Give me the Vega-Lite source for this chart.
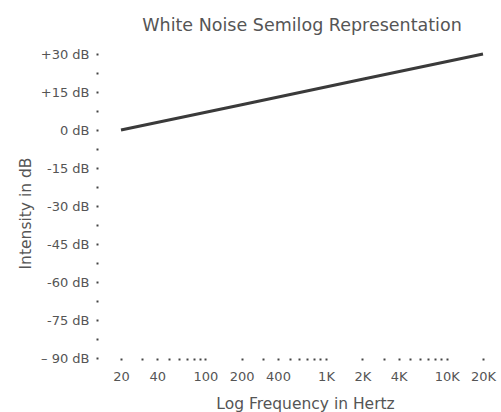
{
  "$schema": "https://vega.github.io/schema/vega-lite/v6.json",
  "width": 362,
  "height": 304,
  "autosize": {"type": "none"},
  "padding": {"left": 121, "top": 54, "right": 18, "bottom": 54},
  "background": "white",
  "title": {
    "text": "White Noise Semilog Representation",
    "font": "DejaVu Sans",
    "fontSize": 17.5,
    "fontWeight": "normal",
    "color": "#555555",
    "anchor": "middle",
    "offset": 14
  },
  "config": {
    "view": {"stroke": null},
    "axis": {
      "domain": false,
      "grid": false,
      "labelFont": "DejaVu Sans",
      "labelFontSize": 13,
      "labelColor": "#555555",
      "titleFont": "DejaVu Sans",
      "titleFontSize": 15.5,
      "titleFontWeight": "normal",
      "titleColor": "#555555",
      "tickColor": "#444444",
      "tickSize": 2,
      "tickWidth": 2,
      "labelOverlap": false,
      "labelBound": false,
      "labelFlush": false
    }
  },
  "data": {
    "values": [
      {"freq": 20, "db": 0},
      {"freq": 200, "db": 10},
      {"freq": 2000, "db": 20},
      {"freq": 20000, "db": 30}
    ]
  },
  "mark": {"type": "line", "color": "#3a3a3a", "strokeWidth": 3, "clip": false},
  "encoding": {
    "x": {
      "field": "freq",
      "type": "quantitative",
      "scale": {"type": "log", "domain": [20, 20000], "nice": false, "zero": false},
      "axis": {
        "title": "Log Frequency in Hertz",
        "titlePadding": 13,
        "labelPadding": 10,
        "titleX": 184,
        "values": [20, 30, 40, 50, 60, 70, 80, 90, 100, 200, 300, 400, 500, 600, 700, 800, 900, 1000, 2000, 3000, 4000, 5000, 6000, 7000, 8000, 9000, 10000, 20000],
        "labelExpr": "indexof([20,40,100,200,400,1000,2000,4000,10000,20000], datum.value) >= 0 ? (datum.value >= 1000 ? (datum.value/1000) + 'K' : '' + datum.value) : ''"
      }
    },
    "y": {
      "field": "db",
      "type": "quantitative",
      "scale": {"domain": [-90, 30], "nice": false, "zero": false},
      "axis": {
        "title": "Intensity in dB",
        "offset": 23,
        "labelPadding": 7,
        "titlePadding": 7,
        "titleY": 159,
        "values": [-90, -82.5, -75, -67.5, -60, -52.5, -45, -37.5, -30, -22.5, -15, -7.5, 0, 7.5, 15, 22.5, 30],
        "labelExpr": "datum.value % 15 != 0 ? '' : datum.value == -90 ? '– 90 dB' : datum.value > 0 ? '+' + datum.value + ' dB' : datum.value + ' dB'"
      }
    }
  }
}
